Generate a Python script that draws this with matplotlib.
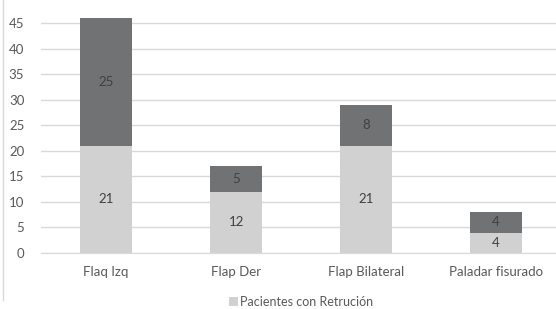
import matplotlib
matplotlib.use("Agg")
import matplotlib.pyplot as plt
from matplotlib.lines import Line2D
from matplotlib.patches import Patch

categories = ["Flaq Izq", "Flap Der", "Flap Bilateral", "Paladar fisurado"]
retrucion = [21, 12, 21, 4]
otros = [25, 5, 8, 4]
legend_label = "Pacientes con Retrución"

plt.rcParams['font.family'] = ['Lato', 'DejaVu Sans']
text_color = "#595959"
light = "#D0D1D0"
dark = "#707274"

fig = plt.figure(figsize=(5.56, 3.09), dpi=100)
ppu = (253 - 23) / 45.0
top_px = 253 - 46 * ppu
ax = fig.add_axes([41/556, 1 - 253/309, 1 - 41/556, (253 - top_px)/309])

x = list(range(len(categories)))
w = 0.4
b1 = ax.bar(x, retrucion, width=w, color=light, zorder=3)
b2 = ax.bar(x, otros, width=w, bottom=retrucion, color=dark, zorder=3)
ax.bar_label(b1, labels=[str(v) for v in retrucion], label_type='center', color="#404040", fontsize=9.5)
ax.bar_label(b2, labels=[str(v) for v in otros], label_type='center', color="#404040", fontsize=9.5)

ax.set_xlim(-0.5, 3.46)
ax.set_ylim(0, 46)
ax.set_yticks(range(0, 46, 5))
ax.set_xticks(x)
ax.set_xticklabels(categories)
ax.yaxis.grid(True, color="#D9D9D9", linewidth=1, zorder=0)
ax.set_axisbelow(True)
for s in ["top", "right", "left"]:
    ax.spines[s].set_visible(False)
ax.spines["bottom"].set_color("#D9D9D9")
ax.tick_params(axis='both', length=0, colors=text_color, labelsize=9.5)
ax.tick_params(axis='y', pad=12)
ax.tick_params(axis='x', pad=9)

fig.legend(handles=[Patch(facecolor=light, edgecolor='none', label=legend_label)],
           loc='center', bbox_to_anchor=(301/556, 1 - 302/309), frameon=False,
           fontsize=9, labelcolor=text_color, handlelength=0.7, handleheight=0.7,
           handletextpad=0.2)

fig.add_artist(Line2D([3/556, 3/556], [1 - 300/309, 1.0], color="#D9D9D9", linewidth=1))

fig.savefig("out.png", dpi=100)
